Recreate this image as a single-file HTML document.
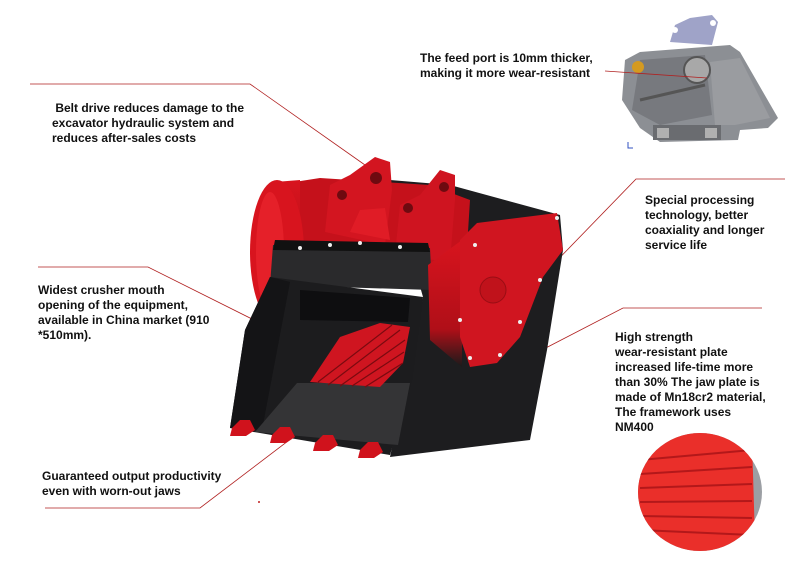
<!DOCTYPE html>
<html><head><style>
body{margin:0;width:800px;height:561px;background:#fff;overflow:hidden;position:relative;font-family:"Liberation Sans",sans-serif}
.t{position:absolute;font-weight:bold;font-size:12px;line-height:15px;color:#111;white-space:nowrap}
</style></head><body>
<svg width="800" height="561" style="position:absolute;left:0;top:0">
<defs>
<linearGradient id="cyl" x1="0" y1="0" x2="0" y2="1"><stop offset="0" stop-color="#d8141e"/><stop offset="0.7" stop-color="#b00f18"/><stop offset="1" stop-color="#1a1a1a"/></linearGradient>
<clipPath id="c"><ellipse cx="700" cy="492" rx="62" ry="59"/></clipPath>
</defs>
<!-- inset top right -->
<g>
<polygon points="670,42 675,25 690,18 712,15 718,22 712,45" fill="#9fa3c8"/>
<circle cx="675" cy="30" r="3" fill="#fff"/><circle cx="713" cy="23" r="3" fill="#fff"/>
<polygon points="625,60 640,52 730,45 740,52 778,118 768,128 740,130 738,140 660,142 640,128 622,100" fill="#8c8f94"/>
<polygon points="640,60 705,55 712,115 660,125 632,110" fill="#77797e"/>
<polygon points="710,62 740,58 770,118 735,125 715,125" fill="#9a9ca0"/>
<circle cx="697" cy="70" r="13" fill="#a8a8a8" stroke="#555" stroke-width="2"/>
<circle cx="638" cy="67" r="6" fill="#d49a20"/>
<line x1="640" y1="100" x2="705" y2="85" stroke="#555" stroke-width="3"/>
<rect x="653" y="125" width="68" height="15" fill="#6a6c70"/>
<rect x="657" y="128" width="12" height="10" fill="#b0b0b0"/><rect x="705" y="128" width="12" height="10" fill="#b0b0b0"/>
<path d="M628 142 v6 h5" stroke="#3050c0" fill="none"/>
</g>
<!-- leader lines -->
<g stroke="#b02020" stroke-width="0.8" fill="none">
<polyline points="30,84 250,84 365,165"/>
<polyline points="605,71 707,78"/>
<polyline points="785,179 636,179 478,342"/>
<polyline points="38,267 148,267 268,327"/>
<polyline points="762,308 623,308 480,382"/>
<polyline points="45,508 200,508 355,390"/>
</g>
<circle cx="259" cy="502" r="1" fill="#c02020"/>
<!-- machine -->
<polygon points="390,180 450,185 560,215 563,250 547,350 530,440 390,457 423,297" fill="#1d1d1f"/>
<!-- top housing -->
<polygon points="275,185 320,178 430,185 470,200 465,280 275,290" fill="#c5111b"/>
<!-- left drum -->
<polygon points="275,182 300,180 300,325 275,323" fill="url(#cyl)"/>
<ellipse cx="277" cy="252" rx="27" ry="72" fill="#d8141e"/>
<ellipse cx="270" cy="252" rx="14" ry="60" fill="#e52029"/>
<!-- ears -->
<polygon points="325,232 330,185 350,175 375,157 390,162 392,190 385,245" fill="#d31520"/>
<polygon points="395,255 400,205 420,195 440,170 455,175 455,200 450,262" fill="#cf1420"/>
<circle cx="376" cy="178" r="6" fill="#6e0a10"/><circle cx="342" cy="195" r="5" fill="#6e0a10"/>
<circle cx="444" cy="187" r="5" fill="#6e0a10"/><circle cx="408" cy="208" r="5" fill="#6e0a10"/>
<polygon points="350,232 360,210 385,208 390,240" fill="#e01c26"/>
<!-- black lip -->
<polygon points="273,245 430,248 432,290 270,285" fill="#2a2a2c"/>
<polygon points="275,240 428,243 430,252 273,250" fill="#111"/>
<!-- front bucket -->
<polygon points="270,277 423,297 412,380 390,455 230,428 245,330" fill="#1c1c1e"/>
<polygon points="270,277 290,282 262,430 230,428 245,330" fill="#141416"/>
<polygon points="300,290 410,298 408,322 300,320" fill="#0e0e10"/>
<polygon points="297,383 410,383 398,445 255,432" fill="#343436"/>
<polygon points="310,382 340,337 380,323 410,327 403,363 380,387" fill="#cf1520"/>
<g stroke="#7a0a10" stroke-width="1.2">
<line x1="318" y1="382" x2="392" y2="325"/><line x1="328" y1="385" x2="400" y2="330"/>
<line x1="340" y1="386" x2="405" y2="340"/><line x1="352" y1="386" x2="404" y2="352"/>
<line x1="365" y1="387" x2="403" y2="363"/>
</g>
<!-- right drum -->
<polygon points="428,265 462,240 462,367 430,340" fill="url(#cyl)"/>
<polygon points="460,240 477,223 557,213 563,250 543,277 520,337 497,363 470,367 460,337" fill="#d01520"/>
<circle cx="493" cy="290" r="13" fill="#c0121b" stroke="#9a0d14"/>
<g fill="#eee">
<circle cx="475" cy="245" r="2"/><circle cx="557" cy="218" r="2"/><circle cx="540" cy="280" r="2"/><circle cx="520" cy="322" r="2"/><circle cx="500" cy="355" r="2"/><circle cx="470" cy="358" r="2"/><circle cx="460" cy="320" r="2"/>
<circle cx="300" cy="248" r="2"/><circle cx="330" cy="245" r="2"/><circle cx="360" cy="243" r="2"/><circle cx="400" cy="247" r="2"/>
</g>
<!-- teeth -->
<g fill="#d0121c">
<polygon points="232,428 240,420 250,420 255,430 246,436 230,436"/>
<polygon points="272,435 280,427 290,427 295,437 286,443 270,443"/>
<polygon points="315,443 323,435 333,435 338,445 329,451 313,451"/>
<polygon points="360,450 368,442 378,442 383,452 374,458 358,458"/>
</g>
<!-- bottom right circle -->
<g clip-path="url(#c)">
<rect x="630" y="420" width="170" height="141" fill="#9c9fa4"/>
<polygon points="630,440 740,428 752,440 755,540 700,556 630,548" fill="#ea2f2a"/>
<g stroke="#b3181a" stroke-width="2">
<line x1="640" y1="460" x2="752" y2="450"/><line x1="640" y1="474" x2="752" y2="467"/>
<line x1="640" y1="488" x2="752" y2="484"/><line x1="640" y1="502" x2="752" y2="501"/>
<line x1="640" y1="516" x2="752" y2="518"/><line x1="640" y1="530" x2="752" y2="535"/>
</g>
</g>
</svg>
<div class="t" style="left:52px;top:101px">&nbsp;Belt drive reduces damage to the<br>excavator hydraulic system and<br>reduces after-sales costs</div>
<div class="t" style="left:420px;top:51px">The feed port is 10mm thicker,<br>making it more wear-resistant</div>
<div class="t" style="left:645px;top:193px">Special processing<br>technology, better<br>coaxiality and longer<br>service life</div>
<div class="t" style="left:38px;top:283px">Widest crusher mouth<br>opening of the equipment,<br>available in China market (910<br>*510mm).</div>
<div class="t" style="left:615px;top:330px">High strength<br>wear-resistant plate<br>increased life-time more<br>than 30% The jaw plate is<br>made of Mn18cr2 material,<br>The framework uses<br>NM400</div>
<div class="t" style="left:42px;top:469px">Guaranteed output productivity<br>even with worn-out jaws</div>
</body></html>
